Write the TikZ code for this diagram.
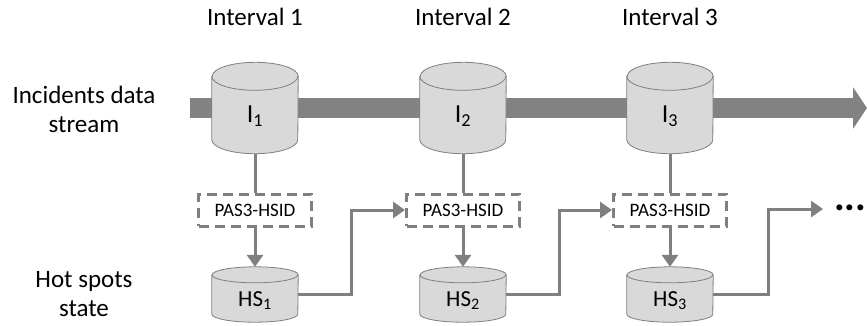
\documentclass[tikz,border=0pt]{standalone}
\usepackage{fontspec}
\setmainfont{Carlito}
\usetikzlibrary{calc,arrows.meta,positioning,backgrounds}

\definecolor{linegray}{HTML}{7F7F7F}
\definecolor{bandgray}{HTML}{828282}
\definecolor{cylfill}{HTML}{D9D9D9}

\tikzset{
    db/.style={inner sep=0pt, minimum width=86pt},
    dbline/.style={draw=linegray, fill=cylfill, line width=0.8pt},
    proc/.style={draw=linegray, line width=3pt, dash pattern=on 10pt off 6pt, fill=white, minimum width=113pt, minimum height=32pt, inner sep=0pt, font=\fontsize{19}{22}\selectfont},
    link/.style={draw=linegray, line width=3pt},
    tip/.style={-{Triangle[length=12pt, width=16pt]}},
    lbl/.style={align=center, font=\fontsize{25}{29}\selectfont},
}

% cylinder drawn round a named node: #1 node name, #2 y radius of the ends
\newcommand{\dbshape}[2]{
    \filldraw[dbline] ($(#1.north west)+(0,#2)$) -- ($(#1.south west)+(0,-#2)$)
        arc[start angle=180, end angle=0, x radius=43, y radius=#2]
        -- ($(#1.north east)+(0,#2)$)
        arc[start angle=0, end angle=-180, x radius=43, y radius=#2] -- cycle;
    \draw[dbline, fill=none] ($(#1.north west)+(0,#2)$) arc[start angle=180, end angle=0, x radius=43, y radius=#2];
}

\begin{document}
\begin{tikzpicture}[x=1pt, y=-1pt]
                            \useasboundingbox (0,0) rectangle (867,325);

                            \node[lbl] (streamlbl) at (84,109) {Incidents data\\stream};
                            \node[lbl] (statelbl) at (84,294.5) {Hot spots\\state};

                            \foreach \i/\x in {1/255,2/463,3/670}{
                                \node[lbl] (int\i) at (\x,17) {Interval \i};
                                \node[db, minimum height=91pt, font=\fontsize{26}{28}\selectfont] (I\i) at (\x,108) {\raisebox{-8pt}[\height][\depth]{I\textsubscript{\i}}};
                                \node[proc] (pas\i) at (\x,210) {PAS3-HSID};
                                \node[db, minimum height=55pt, font=\fontsize{23}{26}\selectfont] (hs\i) at (\x,294.5) {\raisebox{-6pt}[\height][\depth]{HS\textsubscript{\i}}};
                                \draw[link] (I\i.south) -- (pas\i.north);
                                \draw[link, tip] (pas\i.south) -- (hs\i.north);
                            }

                            % stream band and the stores go under the texts
                            \begin{scope}[on background layer]
                                \coordinate (streamstart) at (190,108);
                                \coordinate (streamend) at (867,108);
                                \draw[bandgray, line width=20pt, -{Triangle[length=14pt, width=41pt]}] (streamstart) -- (streamend);
                                \foreach \i in {1,2,3}{
                                    \dbshape{I\i}{14}
                                    \dbshape{hs\i}{8}
                                }
                            \end{scope}

                            \node[font=\fontsize{40}{40}\selectfont\bfseries, inner sep=0pt, anchor=west] (dots) at (834,208.3) {...};
                            \coordinate (dotsin) at (823,209);

                            \foreach \i/\j in {1/2,2/3}{
                                \draw[link, tip] (hs\i.east) -| ($(hs\i.east)!0.5!(pas\j.west)$) |- (pas\j.west);
                            }
                            \draw[link, tip] (hs3.east) -| ($(hs3.east)!0.5!(pas3.west -| dotsin)$) |- (dotsin);
\end{tikzpicture}
\end{document}
